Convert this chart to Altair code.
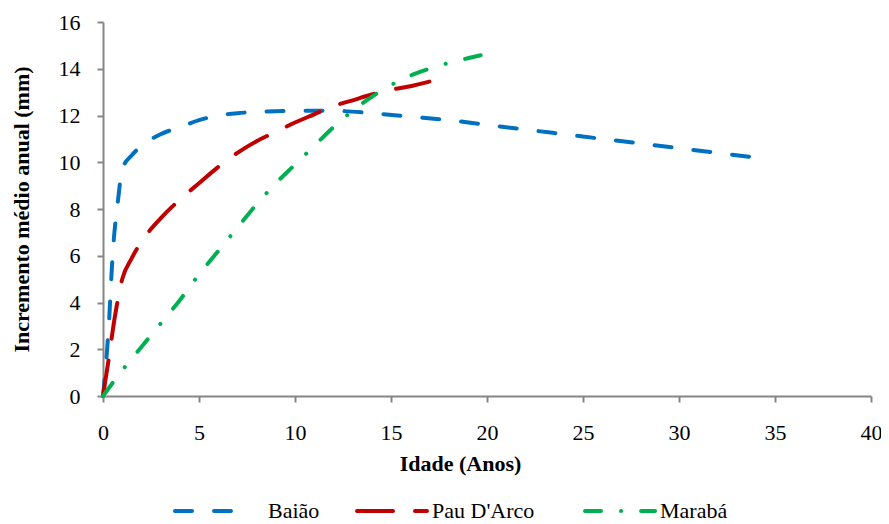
import altair as alt
import pandas as pd

series_names = ["Baião", "Pau D'Arco", "Marabá"]
series_colors = ["#0070C0", "#C00000", "#00B050"]
series_dashes = [[17, 22], [36, 22], [16, 20, 0.1, 20]]

baiao_x = [0, 0.3, 0.5, 0.8, 1.0, 1.5, 2, 3, 4, 5, 6, 7, 8, 10, 12, 14, 16, 18, 20, 22, 25, 28, 30, 32, 34.5]
baiao_y = [0, 3.0, 6.0, 8.5, 9.7, 10.3, 10.7, 11.2, 11.5, 11.8, 12.0, 12.1, 12.15, 12.2, 12.2, 12.1, 11.95, 11.8, 11.6, 11.4, 11.1, 10.8, 10.6, 10.4, 10.15]

pau_x = [0, 0.3, 0.6, 1.0, 1.5, 2, 3, 4, 5, 6, 7, 8, 9, 10, 11, 12, 13, 14, 15, 16, 17]
pau_y = [0, 1.6, 3.3, 5.0, 5.9, 6.6, 7.6, 8.4, 9.1, 9.8, 10.4, 10.9, 11.3, 11.7, 12.05, 12.4, 12.65, 12.9, 13.1, 13.25, 13.45]

maraba_x = [0, 1, 2, 3, 4, 5, 6, 7, 8, 9, 10, 11, 12, 13, 14, 15, 16, 17, 18, 19, 20.3]
maraba_y = [0, 1.1, 2.1, 3.1, 4.1, 5.2, 6.2, 7.2, 8.2, 9.1, 9.9, 10.7, 11.5, 12.2, 12.8, 13.3, 13.7, 14.0, 14.25, 14.45, 14.7]

rows = []
for name, xs, ys in [(series_names[0], baiao_x, baiao_y),
                     (series_names[1], pau_x, pau_y),
                     (series_names[2], maraba_x, maraba_y)]:
    for i, (xv, yv) in enumerate(zip(xs, ys)):
        rows.append({"Série": name, "Idade": xv, "IMA": yv, "ordem": i})
df = pd.DataFrame(rows)

font = "Liberation Serif"
fs = 22

lines = alt.Chart(df).mark_line(strokeWidth=4, strokeCap="round", interpolate="monotone").encode(
    x=alt.X("Idade:Q", scale=alt.Scale(domain=[0, 40], nice=False),
            axis=alt.Axis(values=list(range(0, 41, 5)), title="Idade (Anos)", titleX=357,
                          titlePadding=10, labelPadding=20, labelFlush=False)),
    y=alt.Y("IMA:Q", scale=alt.Scale(domain=[0, 16], nice=False),
            axis=alt.Axis(values=list(range(0, 17, 2)), title="Incremento médio anual (mm)",
                          titlePadding=25, labelPadding=17, labelFlush=False)),
    color=alt.Color("Série:N", scale=alt.Scale(domain=series_names, range=series_colors), legend=None),
    strokeDash=alt.StrokeDash("Série:N", scale=alt.Scale(domain=series_names, range=series_dashes),
                              legend=None),
    order="ordem:Q",
)

# manual legend below the plot (layout positions in pixels)
legend_sym_x0 = [72, 254, 482]
legend_text_x = [165, 329, 557]
legend_y = 489
sym_w = 70
one_row = pd.DataFrame({"k": [0]})

layers = [lines]
for name, col, dash, x0, tx in zip(series_names, series_colors, series_dashes, legend_sym_x0, legend_text_x):
    layers.append(
        alt.Chart(one_row).mark_rule(strokeWidth=4, strokeCap="round", color=col, strokeDash=dash).encode(
            x=alt.value(x0), x2=alt.value(x0 + sym_w), y=alt.value(legend_y)
        )
    )
    layers.append(
        alt.Chart(one_row).mark_text(font=font, fontSize=fs, align="left", baseline="middle",
                                     color="#000000", text=name).encode(
            x=alt.value(tx), y=alt.value(legend_y)
        )
    )

chart = alt.layer(*layers).properties(
    width=768, height=374,
    padding={"left": 95, "top": 14, "right": 10, "bottom": 130},
    autosize=alt.AutoSizeParams(type="none"),
).configure_view(stroke=None).configure_axis(
    labelFont=font, labelFontSize=fs, labelColor="#000000",
    titleFont=font, titleFontSize=fs, titleFontWeight="bold", titleColor="#000000",
    domainColor="#868686", tickColor="#868686", domainWidth=2, tickWidth=2, tickSize=6,
    grid=False,
)

chart.save("out.html", embed_options={"renderer": "svg", "actions": False})
